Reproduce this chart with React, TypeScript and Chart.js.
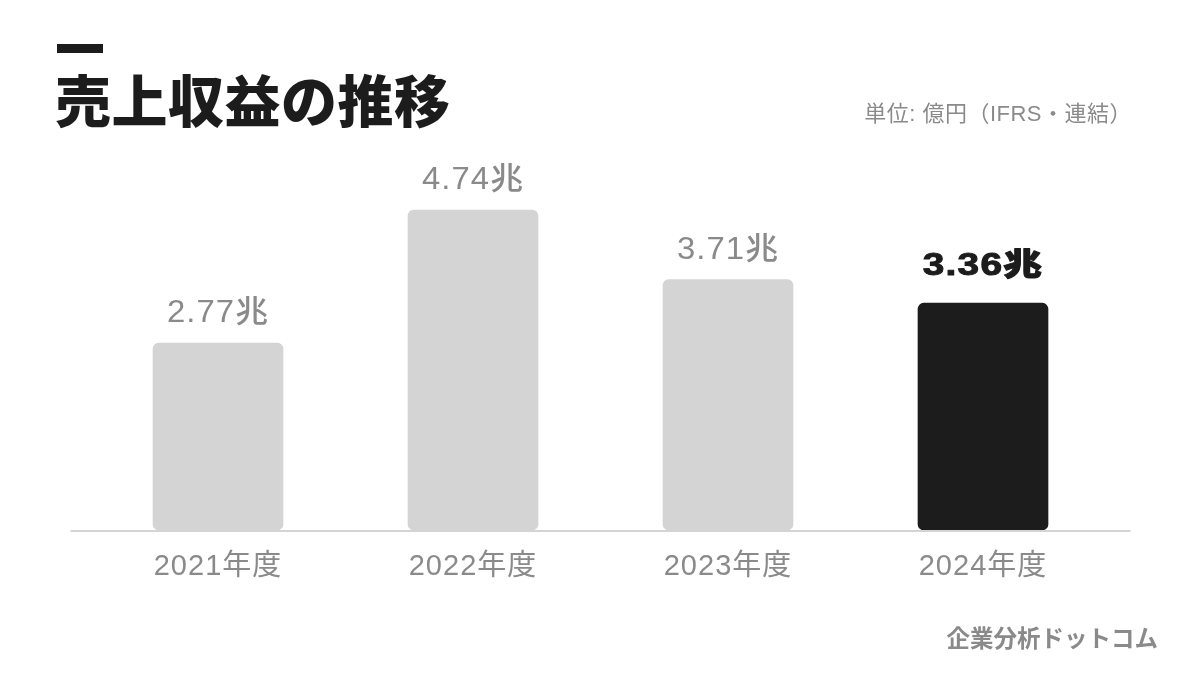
import React, { useEffect, useRef } from "react";
import { Chart, registerables } from "chart.js";

Chart.register(...registerables);

const categories = ["2021年度", "2022年度", "2023年度", "2024年度"];
const revenueTrillionYen = [2.77, 4.74, 3.71, 3.36];
const highlightIndex = 3;
const titleText = "売上収益の推移";
const unitText = "単位: 億円（IFRS・連結）";
const sourceText = "企業分析ドットコム";

const FONT = "'Liberation Sans', 'Noto Sans CJK JP', sans-serif";
const GRAY_BAR = "#d4d4d4";
const DARK = "#1c1c1c";
const GRAY_TEXT = "#8a8a8a";

export default function App() {
  const canvasRef = useRef<HTMLCanvasElement | null>(null);

  useEffect(() => {
    const canvas = canvasRef.current;
    if (!canvas) return;

    const overlay = {
      id: "overlay",
      beforeDraw(chart: any) {
        (chart.ctx as any).letterSpacing = "1px";
      },
      beforeDatasetsDraw(chart: any) {
        const { ctx, chartArea } = chart;
        ctx.save();
        ctx.strokeStyle = "#d4d4d4";
        ctx.lineWidth = 2;
        ctx.beginPath();
        ctx.moveTo(chartArea.left - 20, chartArea.bottom + 1);
        ctx.lineTo(chartArea.right + 20, chartArea.bottom + 1);
        ctx.stroke();
        ctx.restore();
      },
      afterDatasetsDraw(chart: any) {
        const { ctx } = chart;
        const meta = chart.getDatasetMeta(0);
        meta.data.forEach((bar: any, i: number) => {
          const hl = i === highlightIndex;
          ctx.save();
          ctx.textAlign = "center";
          ctx.textBaseline = "alphabetic";
          ctx.font = hl ? `800 31px ${FONT}` : `500 31px ${FONT}`;
          (ctx as any).letterSpacing = "1px";
          ctx.fillStyle = hl ? DARK : GRAY_TEXT;
          const label = revenueTrillionYen[i].toFixed(2) + "兆";
          const sx = hl ? 1.25 : 1.06;
          ctx.translate(bar.x, bar.y - (hl ? 28 : 21));
          ctx.scale(sx, 1);
          ctx.fillText(label, 0, 0);
          if (hl) {
            ctx.strokeStyle = DARK;
            ctx.lineWidth = 1;
            ctx.lineJoin = "round";
            ctx.strokeText(label, 0, 0);
          }
          ctx.restore();
        });
      },
    };

    const chart = new Chart(canvas, {
      type: "bar",
      data: {
        labels: categories,
        datasets: [
          {
            data: revenueTrillionYen,
            backgroundColor: revenueTrillionYen.map((_, i) =>
              i === highlightIndex ? DARK : GRAY_BAR
            ),
            borderRadius: 6,
            borderSkipped: false,
            barThickness: 130,
          },
        ],
      },
      options: {
        responsive: false,
        animation: false,
        layout: { padding: { left: 90.5, right: 89.5, top: 158.75, bottom: 85 } },
        plugins: { legend: { display: false }, tooltip: { enabled: false } },
        scales: {
          x: {
            grid: { display: false },
            border: { display: false },
            ticks: {
              color: GRAY_TEXT,
              font: { family: FONT, size: 29 },
              padding: 12,
            },
            afterFit: (scale: any) => {
              scale.height = 60;
            },
          },
          y: {
            display: false,
            min: 0,
            max: 5.5,
          },
        },
      },
      plugins: [overlay],
    });

    return () => chart.destroy();
  }, []);

  return (
    <div
      style={{
        position: "absolute",
        left: 0,
        top: 0,
        width: 1200,
        height: 675,
        background: "#ffffff",
        fontFamily: FONT,
        overflow: "hidden",
      }}
    >
      <canvas
        ref={canvasRef}
        width={1200}
        height={675}
        style={{ position: "absolute", left: 0, top: 0 }}
      />
      <div
        style={{
          position: "absolute",
          left: 57,
          top: 44,
          width: 46,
          height: 9,
          background: DARK,
        }}
      />
      <div
        style={{
          position: "absolute",
          left: 55,
          top: 62,
          fontSize: 56,
          fontWeight: 900,
          color: DARK,
          fontFamily: "'Noto Sans CJK JP', sans-serif",
          lineHeight: "72px",
          whiteSpace: "nowrap",
          letterSpacing: "0.5px",
        }}
      >
        {titleText}
      </div>
      <div
        style={{
          position: "absolute",
          right: 68,
          top: 100,
          fontSize: 22,
          color: GRAY_TEXT,
          lineHeight: "28px",
          whiteSpace: "nowrap",
          letterSpacing: "0.5px",
        }}
      >
        {unitText}
      </div>
      <div
        style={{
          position: "absolute",
          right: 42,
          top: 621,
          fontSize: 23.5,
          fontWeight: 700,
          color: GRAY_TEXT,
          fontFamily: "'Noto Sans CJK JP', sans-serif",
          lineHeight: "32px",
          whiteSpace: "nowrap",
        }}
      >
        {sourceText}
      </div>
    </div>
  );
}
